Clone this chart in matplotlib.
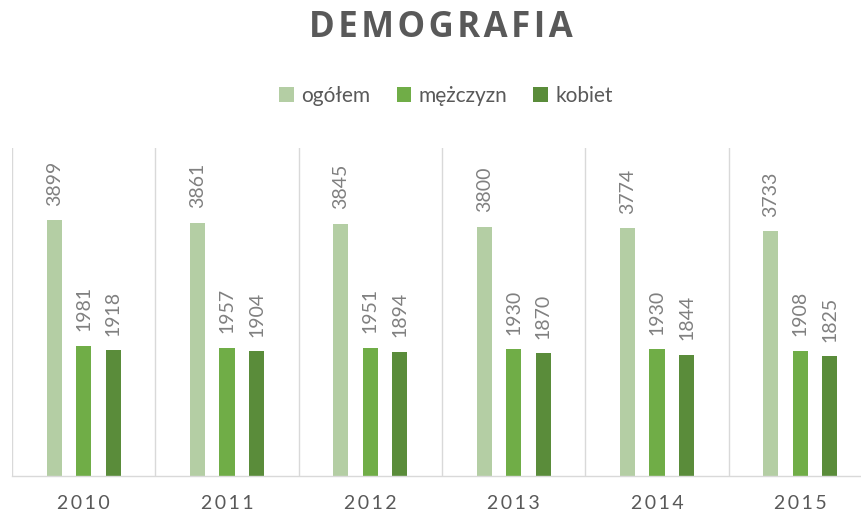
import matplotlib
matplotlib.use('Agg')
import matplotlib.pyplot as plt
from matplotlib.patches import Patch
import numpy as np

years = ['2010', '2011', '2012', '2013', '2014', '2015']
ogolem = [3899, 3861, 3845, 3800, 3774, 3733]
mezczyzn = [1981, 1957, 1951, 1930, 1930, 1908]
kobiet = [1918, 1904, 1894, 1870, 1844, 1825]

series_names = ['ogółem', 'mężczyzn', 'kobiet']
colors = ['#b4cea4', '#70ad47', '#5a8c3a']

plt.rcParams['font.family'] = ['Lato', 'DejaVu Sans']

fig = plt.figure(figsize=(8.61, 5.13), dpi=100)
ax = fig.add_axes([12 / 861, 1 - 476 / 513, 860 / 861, 328 / 513])

x = np.arange(len(years))
bw = 0.105
step = 0.206
for i, vals in enumerate([ogolem, mezczyzn, kobiet]):
    bars = ax.bar(x + (i - 1) * step, vals, width=bw, color=colors[i], zorder=2)
    for b, v in zip(bars, vals):
        ax.annotate(str(v), (b.get_x() + b.get_width() / 2, v),
                    xytext=(0, 10.5), textcoords='offset points',
                    rotation=90, ha='center', va='bottom',
                    fontsize=14, color='#808080')

ax.set_xlim(-0.5, len(years) - 0.5)
ax.set_ylim(0, 5000)
for s in range(len(years) + 1):
    ax.axvline(s - 0.5, color='#d9d9d9', linewidth=1, zorder=1)

for sp in ['top', 'right', 'left']:
    ax.spines[sp].set_visible(False)
ax.spines['bottom'].set_color('#d9d9d9')
ax.spines['bottom'].set_linewidth(1)
ax.set_yticks([])
ax.set_xticks(x)
ax.set_xticklabels(['\u2009'.join(y) for y in years], fontsize=14, color='#595959')
ax.tick_params(axis='x', length=0, pad=14)

fig.text(441 / 861, 1 - 28 / 513, '\u200a'.join('DEMOGRAFIA'), ha='center', va='center',
         fontsize=25, fontweight='bold', color='#595959',
         family=['Open Sans', 'DejaVu Sans'])

handles = [Patch(facecolor=c, edgecolor='none') for c in colors]
fig.legend(handles, series_names, loc='center', bbox_to_anchor=(446 / 861, 1 - 96 / 513),
           ncol=3, frameon=False, fontsize=15, labelcolor='#595959',
           handlelength=0.7, handleheight=0.7, handletextpad=0.35, columnspacing=1.25)

fig.savefig('out.png', dpi=100)
